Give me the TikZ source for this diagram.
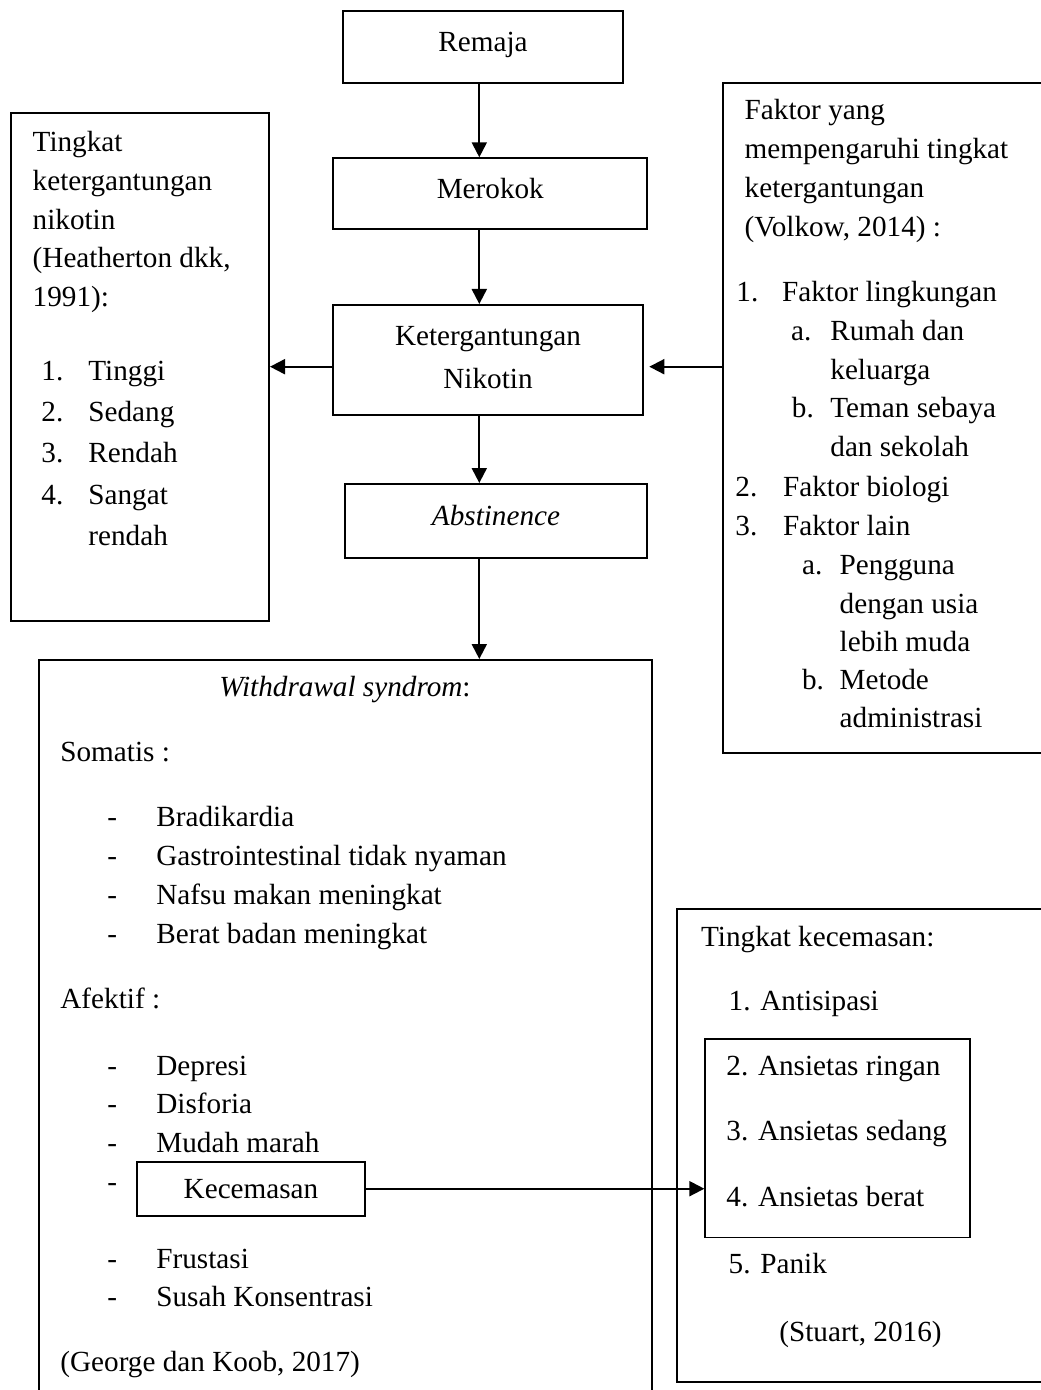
\documentclass[tikz,border=0pt]{standalone}
\usepackage{fontspec}
\setmainfont{Liberation Serif}
\usetikzlibrary{arrows.meta,fit}

\tikzset{
	box/.style={draw, line width=1pt, inner sep=0pt},
	thinbox/.style={draw, line width=0.65pt, inner sep=0pt},
	txt/.style={anchor=base west, inner sep=0pt},
	ctxt/.style={anchor=base, inner sep=0pt},
	arr/.style={line width=1pt, -{Triangle[length=7.5pt,width=7.5pt]}}
}

\begin{document}
\begin{tikzpicture}[x=0.5pt, y=-0.5pt, font=\fontsize{14.6}{17.5}\selectfont]
		%%%%% START %%%%%
		\useasboundingbox (0,0) rectangle (1040,1390);
		\coordinate (axis) at (479.3,0);
		
		% middle column
		\node[box, fit={(342.7,10.7) (623.3,82.7)}] (remaja) {};
		\node[ctxt] (remaja-t) at (483,51.7) {Remaja};
		
		\node[box, fit={(333.3,158.3) (647.3,229.3)}] (merokok) {};
		\node[ctxt] (merokok-t) at (490.3,199) {Merokok};
		
		\node[box, fit={(332.7,305) (643.3,415)}] (keter) {};
		\node[ctxt] (keter-t1) at (488,345) {Ketergantungan};
		\node[ctxt] (keter-t2) at (488,388.3) {Nikotin};
		
		\node[box, fit={(345,484) (647.3,558.3)}] (abst) {};
		\node[ctxt] (abst-t) at (496,525) {\textit{Abstinence}};
		
		% left box
		\node[box, fit={(10.7,112.7) (269,620.7)}] (tingkat) {};
		\foreach \t [count=\i from 0] in {Tingkat, ketergantungan, nikotin, {(Heatherton dkk,}, {1991):}}
			\node[txt] (tk\i) at (32.3,{151.7+38.7*\i}) {\t};
		\foreach \n/\t [count=\i from 0] in {1./Tinggi, 2./Sedang, 3./Rendah, 4./Sangat} {
			\node[txt] (tkn\i) at (41,{380.7+41.1*\i}) {\n};
			\node[txt] (tki\i) at (88,{380.7+41.1*\i}) {\t};
		}
		\node[txt] (tki4) at (88,545) {rendah};
		
		% right box
		\node[box, fit={(723.3,82.7) (1050,753.3)}] (faktor) {};
		\foreach \t [count=\i from 0] in {Faktor yang, mempengaruhi tingkat, ketergantungan, {(Volkow, 2014) :}}
			\node[txt] (fk\i) at (744.3,{120+38.7*\i}) {\t};
		\node[txt] (fk-n1) at (736,301.7) {1.};
		\node[txt] (fk-1) at (781.7,301.7) {Faktor lingkungan};
		\node[txt] (fk-n1a) at (790.7,340.4) {a.};
		\node[txt] (fk-1a) at (830,340.4) {Rumah dan};
		\node[txt] (fk-1a2) at (830,379.1) {keluarga};
		\node[txt] (fk-n1b) at (791.5,417.8) {b.};
		\node[txt] (fk-1b) at (830,417.8) {Teman sebaya};
		\node[txt] (fk-1b2) at (830,456.5) {dan sekolah};
		\node[txt] (fk-n2) at (735,496) {2.};
		\node[txt] (fk-2) at (782.7,496) {Faktor biologi};
		\node[txt] (fk-n3) at (735,535) {3.};
		\node[txt] (fk-3) at (782.7,535) {Faktor lain};
		\node[txt] (fk-n3a) at (801.7,574) {a.};
		\node[txt] (fk-3a) at (839.3,574) {Pengguna};
		\node[txt] (fk-3a2) at (839.3,613) {dengan usia};
		\node[txt] (fk-3a3) at (839.3,651) {lebih muda};
		\node[txt] (fk-n3b) at (801.7,689) {b.};
		\node[txt] (fk-3b) at (839.3,689) {Metode};
		\node[txt] (fk-3b2) at (839.3,727.5) {administrasi};
		
		% withdrawal box
		\node[box, fit={(39.3,660) (651.7,1400)}] (withdraw) {};
		\node[ctxt] (wd-t) at (345,696.7) {\textit{Withdrawal syndrom}:};
		\node[txt] (somatis) at (60,761.7) {Somatis :};
		\foreach \t [count=\i from 0] in {Bradikardia, Gastrointestinal tidak nyaman, Nafsu makan meningkat, Berat badan meningkat} {
			\node[txt] (sd\i) at (107,{826.7+38.8*\i}) {-};
			\node[txt] (si\i) at (156,{826.7+38.8*\i}) {\t};
		}
		\node[txt] (afektif) at (60,1008) {Afektif :};
		\foreach \t/\y [count=\i from 0] in {Depresi/1075, Disforia/1113.7, Mudah marah/1152.4, Frustasi/1268, Susah Konsentrasi/1306.7} {
			\node[txt] (ad\i) at (107,\y) {-};
			\node[txt] (ai\i) at (156,\y) {\t};
		}
		\node[txt] (ad-k) at (107,1191.1) {-};
		\node[box, fit={(136.7,1161.7) (365,1215.7)}] (kecemasan) {};
		\node[ctxt] (kecemasan-t) at (251,1198.3) {Kecemasan};
		\node[txt] (george) at (60,1371.7) {(George dan Koob, 2017)};
		
		% anxiety box
		\node[box, fit={(676.7,909.3) (1050,1381.7)}] (cemas) {};
		\node[txt] (cemas-t) at (700.7,946.7) {Tingkat kecemasan:};
		\node[txt] (cm1) at (728.3,1010.7) {1. Antisipasi};
		\node[thinbox, fit={(705,1039) (970,1237.7)}] (ansietas) {};
		\node[txt] (cm2) at (726,1075) {2. Ansietas ringan};
		\node[txt] (cm3) at (726,1140.7) {3. Ansietas sedang};
		\node[txt] (cm4) at (726,1206) {4. Ansietas berat};
		\node[txt] (cm5) at (728.3,1273.3) {5. Panik};
		\node[txt] (stuart) at (779,1341.7) {(Stuart, 2016)};
		
		% arrows
		\draw[arr] (remaja.south -| axis) -- (merokok.north -| axis);
		\draw[arr] (merokok.south -| axis) -- (keter.north -| axis);
		\draw[arr] (keter.south -| axis) -- (abst.north -| axis);
		\draw[arr] (abst.south -| axis) -- (withdraw.north -| axis);
		\draw[arr] (keter.west |- tingkat.east) -- (tingkat.east);
		\draw[arr, shorten >=2.5pt] (faktor.west |- tingkat.east) -- (keter.east |- tingkat.east);
		\draw[arr] (kecemasan.east) -- (ansietas.west |- kecemasan.east);
		%%%%% END %%%%%
	\end{tikzpicture}
\end{document}
